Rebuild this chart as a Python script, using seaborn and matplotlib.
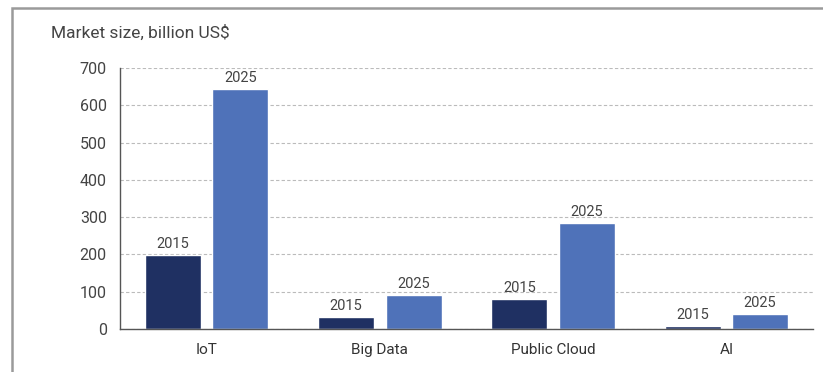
import matplotlib
matplotlib.use("Agg")
import matplotlib.pyplot as plt
import seaborn as sns
import pandas as pd
from matplotlib.patches import Rectangle

categories = ["IoT", "Big Data", "Public Cloud", "AI"]
years = ["2015", "2025"]
values_2015 = [198, 32, 80, 8]
values_2025 = [643, 90, 284, 40]
yticks = [0, 100, 200, 300, 400, 500, 600, 700]

df = pd.DataFrame({
    "category": categories * 2,
    "year": [years[0]] * 4 + [years[1]] * 4,
    "value": values_2015 + values_2025,
})

sns.set_theme(style="white")
plt.rcParams["font.family"] = ["Roboto", "DejaVu Sans"]

fig = plt.figure(figsize=(8.23, 3.72), dpi=100)
ax = fig.add_axes([120 / 823, 1 - 329 / 372, 693 / 823, 261 / 372])

palette = {"2015": "#1f3062", "2025": "#4f72b9"}
sns.barplot(data=df, x="category", y="value", hue="year", order=categories,
            hue_order=years, palette=palette, width=0.78, gap=0.17,
            saturation=1, legend=False, ax=ax)

for cont, yr in zip(ax.containers, years):
    ax.bar_label(cont, labels=[yr] * len(cont), padding=3, fontsize=10.5,
                 color="#444444")

ax.set_xlim(-0.5, 3.5)
ax.set_ylim(0, 700)
ax.set_yticks(yticks)
ax.set_yticklabels([str(t) for t in yticks], fontsize=11.5, color="#444444")
ax.tick_params(axis="x", labelsize=11, labelcolor="#333333", length=0, pad=10)
ax.tick_params(axis="y", length=0, pad=9.5)
ax.set_xlabel("")
ax.set_ylabel("")
ax.yaxis.grid(True, linestyle=(0, (3, 2)), color="#bbbbbb", linewidth=0.8)
ax.set_axisbelow(True)
for s in ["top", "right"]:
    ax.spines[s].set_visible(False)
ax.spines["left"].set_color("#555555")
ax.spines["bottom"].set_color("#555555")
ax.spines["left"].set_linewidth(1)
ax.spines["bottom"].set_linewidth(1)

fig.text(51 / 823, 1 - 33 / 372, "Market size, billion US$", fontsize=12.5,
         color="#444444", va="center", ha="left")

frame = Rectangle((12 / 823, -0.1), 1.1, 1 - 8 / 372 + 0.1,
                  transform=fig.transFigure, fill=False,
                  edgecolor="#9a9a9a", linewidth=1.8, clip_on=False)
fig.patches.append(frame)

fig.savefig("out.png", dpi=100)
